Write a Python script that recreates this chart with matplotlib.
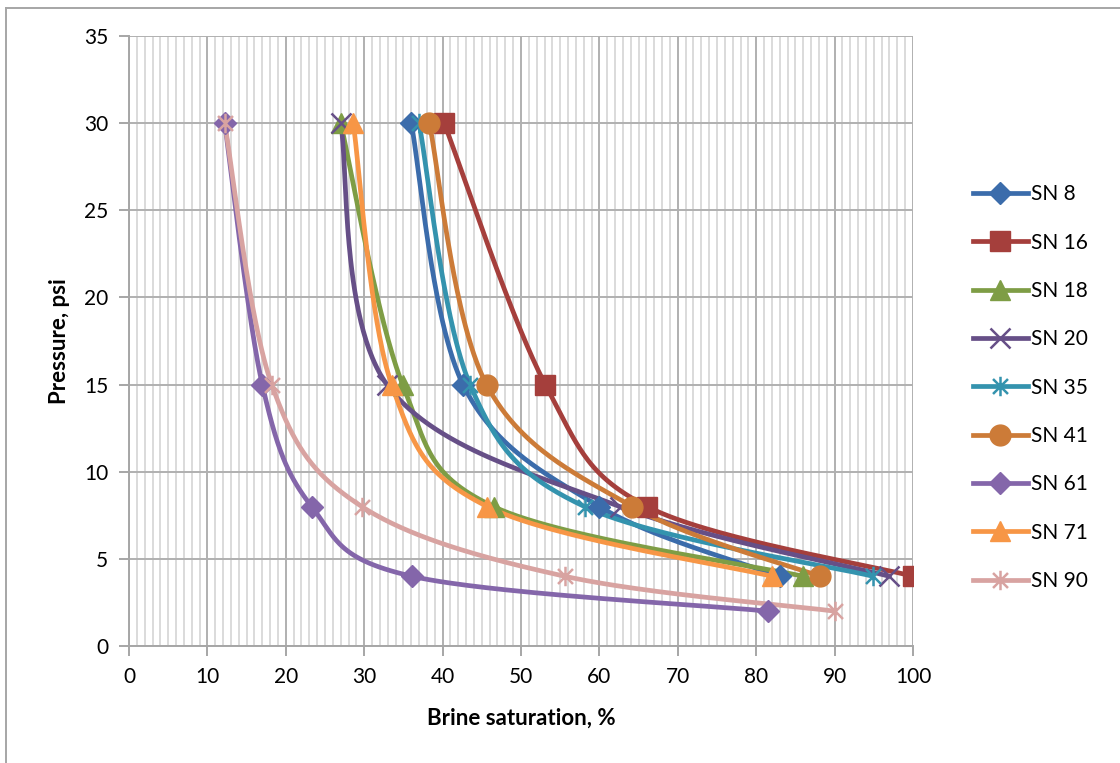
import numpy as np
import matplotlib
matplotlib.use("Agg")
import matplotlib.pyplot as plt
from matplotlib.path import Path
from matplotlib.lines import Line2D
from matplotlib.ticker import MultipleLocator

plt.rcParams['font.family'] = ['Lato', 'DejaVu Sans']

# Brine saturation (%) at each pressure step (psi) for every sample
series_names = ["SN 8", "SN 16", "SN 18", "SN 20", "SN 35", "SN 41", "SN 61", "SN 71", "SN 90"]
pressure_4 = [30, 15, 8, 4]
pressure_5 = [30, 15, 8, 4, 2]

sn8 = [36.0, 42.6, 60.0, 83.0]
sn16 = [40.2, 53.1, 66.1, 100.0]
sn18 = [27.0, 34.9, 46.5, 86.0]
sn20 = [27.0, 32.9, 62.6, 97.0]
sn35 = [37.0, 43.5, 58.1, 94.9]
sn41 = [38.3, 45.6, 64.2, 88.1]
sn61 = [12.2, 17.0, 23.3, 36.1, 81.5]
sn71 = [28.6, 33.5, 45.7, 82.0]
sn90 = [12.2, 18.2, 29.7, 55.6, 90.0]

saturations = [sn8, sn16, sn18, sn20, sn35, sn41, sn61, sn71, sn90]
pressures = [pressure_4] * 6 + [pressure_5, pressure_4, pressure_5]

colors = ["#3B6CAB", "#A53F3C", "#7E9D45", "#664F87", "#3493AE",
          "#CC7B38", "#8466AA", "#F79646", "#D8A3A1"]

# asterisk marker: an x with a vertical stroke
star_path = Path([(-1, -1), (1, 1), (-1, 1), (1, -1), (0, -1.3), (0, 1.3)],
                 [Path.MOVETO, Path.LINETO, Path.MOVETO, Path.LINETO, Path.MOVETO, Path.LINETO])
markers = ["D", "s", "^", "x", star_path, "o", "D", "^", star_path]
msizes = [11.5, 14, 14, 14, 14, 15, 11.5, 14, 14]


def smooth(xs, ys, n=60):
    """Cubic Bezier smoothing through the points (spreadsheet-style)."""
    P = np.column_stack([xs, ys]).astype(float)
    ext = np.vstack([P[0], P, P[-1]])
    out = []
    t = np.linspace(0, 1, n)[:, None]
    for i in range(len(P) - 1):
        p0, p1, p2, p3 = ext[i], ext[i + 1], ext[i + 2], ext[i + 3]
        c1 = p1 + (p2 - p0) / 6.0
        c2 = p2 - (p3 - p1) / 6.0
        seg = ((1 - t) ** 3) * p1 + 3 * ((1 - t) ** 2) * t * c1 + 3 * (1 - t) * t ** 2 * c2 + t ** 3 * p2
        out.append(seg)
    out = np.vstack(out)
    return out[:, 0], out[:, 1]


def is_filled(m):
    return not (isinstance(m, str) and m == "x") and m is not star_path


fig = plt.figure(figsize=(11.2, 7.63), dpi=100)
ax = fig.add_axes([129 / 1120, 1 - 646 / 763, 784 / 1120, 610 / 763])

ax.set_xlim(0, 100)
ax.set_ylim(0, 35)
ax.xaxis.set_major_locator(MultipleLocator(10))
ax.xaxis.set_minor_locator(MultipleLocator(1))
ax.yaxis.set_major_locator(MultipleLocator(5))

ax.grid(which="minor", axis="x", color="#D4D4D4", linewidth=1.2, zorder=0)
ax.grid(which="major", axis="x", color="#B0B0B0", linewidth=1.4, zorder=0)
ax.grid(which="major", axis="y", color="#B0B0B0", linewidth=1.4, zorder=0)
ax.set_axisbelow(True)

for s in ["top", "right"]:
    ax.spines[s].set_visible(False)
for s in ["left", "bottom"]:
    ax.spines[s].set_color("#A6A6A6")
    ax.spines[s].set_linewidth(1.4)

ax.tick_params(which="major", direction="out", length=7, width=1.4, color="#A6A6A6",
               labelsize=15, pad=8)
ax.tick_params(which="minor", length=0)

for name, xs, ys, c, m, ms in zip(series_names, saturations, pressures, colors, markers, msizes):
    sx, sy = smooth(xs, ys)
    ax.plot(sx, sy, color=c, linewidth=3.4, solid_capstyle="round", zorder=3)
    f = is_filled(m)
    ax.plot(xs, ys, linestyle="none", marker=m, markersize=ms,
            markerfacecolor=c if f else "none", markeredgecolor=c,
            markeredgewidth=1.0 if f else 1.8, zorder=4)

ax.set_xlabel("Brine saturation, %", fontsize=16, fontweight="bold", labelpad=15)
ax.set_ylabel("Pressure, psi", fontsize=16, fontweight="bold", labelpad=10)

handles = []
for name, c, m, ms in zip(series_names, colors, markers, msizes):
    f = is_filled(m)
    handles.append(Line2D([0], [0], color=c, linewidth=3.4, marker=m, markersize=ms,
                          markerfacecolor=c if f else "none", markeredgecolor=c,
                          markeredgewidth=1.0 if f else 1.8))
leg = fig.legend(handles, series_names, loc="upper left",
                 bbox_to_anchor=(965 / 1120, 1 - 176 / 763), frameon=False,
                 fontsize=15, handlelength=2.6, handletextpad=0.15,
                 labelspacing=1.36, borderaxespad=0)

# outer chart frame (left and top edges)
fig.add_artist(Line2D([5.5 / 1120, 5.5 / 1120], [0, 1 - 7.5 / 763], transform=fig.transFigure,
                      color="#A6A6A6", linewidth=1.4))
fig.add_artist(Line2D([5.5 / 1120, 1], [1 - 7.5 / 763, 1 - 7.5 / 763], transform=fig.transFigure,
                      color="#A6A6A6", linewidth=1.4))

fig.savefig("out.png", dpi=100)
